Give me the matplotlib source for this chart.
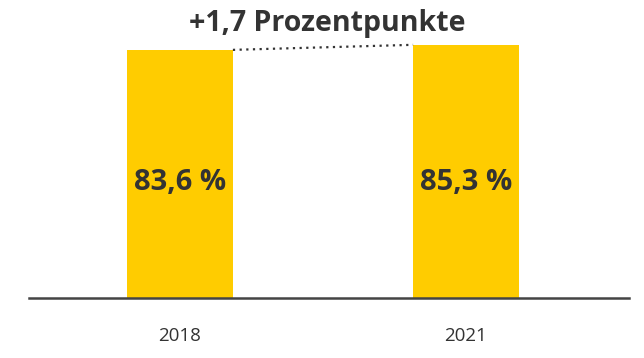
import matplotlib.pyplot as plt

plt.rcParams['font.family'] = ['Open Sans', 'DejaVu Sans']

# data
years = ["2018", "2021"]
values = [83.6, 85.3]
value_labels = ["83,6 %", "85,3 %"]
headline = "+1,7 Prozentpunkte"

yellow = "#FFCC00"
dark = "#333333"
bar_w = 0.37

fig = plt.figure(figsize=(6.44, 3.58), dpi=100)
ax = fig.add_axes([29/644, 60/358, 600/644, 298/358])

x = list(range(len(years)))
ax.bar(x, values, width=bar_w, color=yellow)

for xi, v, lab in zip(x, values, value_labels):
    ax.text(xi, 39, lab, ha="center", va="center", fontsize=21,
            fontweight="bold", color=dark)

# dotted connector between bar tops
ax.plot([x[0] + bar_w/2, x[1] - bar_w/2], [values[0], values[1]],
        linestyle=(0, (1, 2)), color=dark, lw=1.6)

ax.set_xlim(-0.528, 1.570)
ax.set_ylim(0, 100.4)
ax.set_yticks([])
ax.set_xticks(x)
ax.set_xticklabels(years, fontsize=13.5, color=dark)
ax.tick_params(axis="x", length=0, pad=21)
for s in ["top", "right", "left"]:
    ax.spines[s].set_visible(False)
ax.spines["bottom"].set_color("#444444")
ax.spines["bottom"].set_linewidth(1.8)

fig.text(327/644, 1 - 24/358, headline, ha="center", va="center",
         fontsize=20.5, fontweight="bold", color=dark)

fig.savefig("out.png", dpi=100)
